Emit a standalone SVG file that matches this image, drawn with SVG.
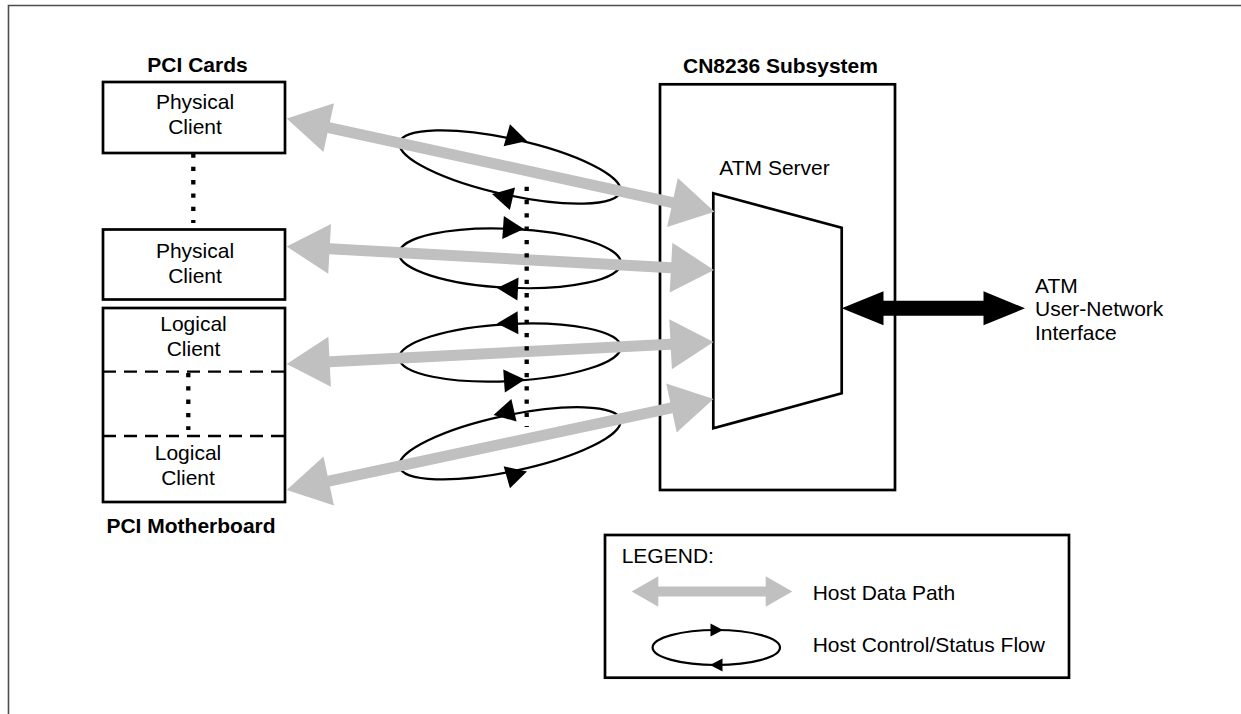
<svg xmlns="http://www.w3.org/2000/svg" xmlns:xlink="http://www.w3.org/1999/xlink" width="1241" height="714" viewBox="0 0 1241 714">
  <style>
    .t { font-family: "Liberation Sans", Arial, sans-serif; font-size: 21px; fill: #000; }
    .b { font-weight: bold; }
    .box { fill: #fff; stroke: #000; stroke-width: 2.7; }
    .dash { fill: none; stroke: #000; stroke-width: 2.3; stroke-dasharray: 13 8; }
    .dot { fill: none; stroke: #000; stroke-width: 4.3; stroke-dasharray: 4.3 9; }
    .loop { fill: none; stroke: #000; stroke-width: 2.2; }
    .gray { fill: #c0c0c0; stroke: none; }
  </style>
  <defs>
    <polygon id="ah" points="0,0 -21,-11.5 -21,11.5" fill="#000"/>
    <polygon id="ahs" points="0,0 -12.5,-6.5 -12.5,6.5" fill="#000"/>
  </defs>
  <rect width="1241" height="714" fill="#fff"/>
  <path d="M8.5,714 V5.5 H1241" fill="none" stroke="#4d4d4d" stroke-width="1.6"/>

  <g id="pci-cards-label">
    <text class="t b" x="197.5" y="72" text-anchor="middle">PCI Cards</text>
  </g>
  <g id="physical-client-1">
    <rect class="box" x="103" y="82" width="182" height="71"/>
    <text class="t" x="195" y="108.5" text-anchor="middle">Physical</text>
    <text class="t" x="195" y="134" text-anchor="middle">Client</text>
  </g>
  <g id="physical-client-2">
    <rect class="box" x="103" y="229.5" width="182" height="70"/>
    <text class="t" x="195" y="257.5" text-anchor="middle">Physical</text>
    <text class="t" x="195" y="283" text-anchor="middle">Client</text>
  </g>
  <g id="logical-clients">
    <rect class="box" x="103" y="308" width="182" height="194"/>
    <line class="dash" x1="103" y1="371.7" x2="285" y2="371.7"/>
    <line class="dash" x1="103" y1="436" x2="285" y2="436"/>
    <text class="t" x="193.5" y="330.5" text-anchor="middle">Logical</text>
    <text class="t" x="193.5" y="356" text-anchor="middle">Client</text>
    <line class="dot" x1="188.3" y1="373" x2="188.3" y2="430"/>
    <text class="t" x="188" y="460" text-anchor="middle">Logical</text>
    <text class="t" x="188" y="484.5" text-anchor="middle">Client</text>
  </g>
  <g id="pci-motherboard-label">
    <text class="t b" x="191" y="533" text-anchor="middle">PCI Motherboard</text>
  </g>

  <g id="cn8236-subsystem">
    <text class="t b" x="780.5" y="73.3" text-anchor="middle">CN8236 Subsystem</text>
    <rect class="box" x="660" y="84.3" width="235" height="405.7"/>
  </g>
  <g id="atm-server">
    <text class="t" x="719.3" y="175">ATM Server</text>
    <polygon class="box" points="713.3,193.3 841.7,227.7 841.7,393.3 713.3,428.3"/>
  </g>
  <g id="atm-uni">
    <text class="t" x="1035" y="292.5">ATM</text>
    <text class="t" x="1035" y="316">User-Network</text>
    <text class="t" x="1035" y="340">Interface</text>
  </g>

  <g id="connectors">
    <!-- control/status loops -->
    <ellipse class="loop" cx="510" cy="167" rx="113" ry="28" transform="rotate(12.5 510 167)"/>
    <ellipse class="loop" cx="510" cy="258.3" rx="111" ry="29.5" transform="rotate(2.6 510 258.3)"/>
    <ellipse class="loop" cx="510" cy="352.5" rx="111" ry="28.5" transform="rotate(-3 510 352.5)"/>
    <ellipse class="loop" cx="510" cy="443.3" rx="113" ry="28" transform="rotate(-12 510 443.3)"/>
    <use xlink:href="#ah" href="#ah" transform="translate(527,141) rotate(16)"/>
    <use xlink:href="#ah" href="#ah" transform="translate(492,194) rotate(193)"/>
    <use xlink:href="#ah" href="#ah" transform="translate(524,229) rotate(4)"/>
    <use xlink:href="#ah" href="#ah" transform="translate(497,288) rotate(183)"/>
    <use xlink:href="#ah" href="#ah" transform="translate(497,323.5) rotate(178)"/>
    <use xlink:href="#ah" href="#ah" transform="translate(525,379.5) rotate(-4)"/>
    <use xlink:href="#ah" href="#ah" transform="translate(493.5,415) rotate(167)"/>
    <use xlink:href="#ah" href="#ah" transform="translate(527,471.5) rotate(-16)"/>

    <!-- host data paths -->
    <polygon class="gray" transform="translate(286.7,118.5) rotate(12.29)" points="0,0 43,-25 43,-5.5 394.8,-5.5 394.8,-25 437.8,0 394.8,25 394.8,5.5 43,5.5 43,25"/>
    <polygon class="gray" transform="translate(286.7,246.5) rotate(3.15)" points="0,0 43,-25 43,-5.5 384.9,-5.5 384.9,-25 427.9,0 384.9,25 384.9,5.5 43,5.5 43,25"/>
    <polygon class="gray" transform="translate(286.7,364) rotate(-2.95)" points="0,0 43,-25 43,-5.5 384.4,-5.5 384.4,-25 427.4,0 384.4,25 384.4,5.5 43,5.5 43,25"/>
    <polygon class="gray" transform="translate(286.7,490) rotate(-12.04)" points="0,0 43,-25 43,-5.5 393.4,-5.5 393.4,-25 436.4,0 393.4,25 393.4,5.5 43,5.5 43,25"/>

    <!-- dotted links -->
    <line class="dot" x1="193.3" y1="153.5" x2="193.3" y2="223"/>
    <line class="dot" x1="526.7" y1="186.7" x2="526.7" y2="427"/>

    <!-- ATM UNI arrow -->
    <polygon fill="#000" points="841.7,308.3 883.5,291.3 883.5,300.8 983.5,300.8 983.5,291.3 1025,308.3 983.5,325.3 983.5,315.8 883.5,315.8 883.5,325.3"/>
  </g>

  <g id="legend">
    <rect class="box" x="605" y="535" width="464" height="142.7"/>
    <text class="t" x="621.7" y="562.5">LEGEND:</text>
    <polygon class="gray" points="631.7,591.5 658.3,576.2 658.3,586.5 765.7,586.5 765.7,576.2 792.3,591.5 765.7,606.8 765.7,596.5 658.3,596.5 658.3,606.8"/>
    <text class="t" x="812.7" y="600">Host Data Path</text>
    <ellipse class="loop" cx="716.3" cy="647.5" rx="63.7" ry="17.5"/>
    <use xlink:href="#ahs" href="#ahs" transform="translate(723,630) rotate(0)"/>
    <use xlink:href="#ahs" href="#ahs" transform="translate(710,665) rotate(180)"/>
    <text class="t" x="812.7" y="651.5">Host Control/Status Flow</text>
  </g>
</svg>
